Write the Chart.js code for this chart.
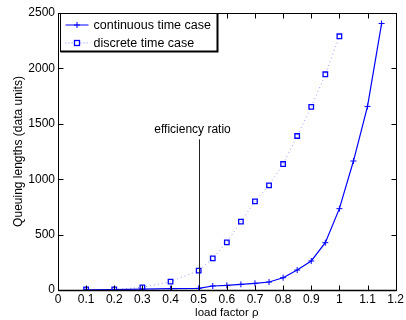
<!DOCTYPE html>
<html>
<head>
<meta charset="utf-8">
<script src="https://cdn.jsdelivr.net/npm/chart.js@4/dist/chart.umd.min.js"></script>
<style>
html,body{margin:0;padding:0;background:#fff;}
#wrap{width:406px;height:320px;position:relative;}
</style>
</head>
<body>
<div id="wrap"><canvas id="c" width="406" height="320"></canvas></div>
<script>
const contLoad = [0.1,0.2,0.3,0.4,0.5,0.55,0.6,0.65,0.7,0.75,0.8,0.85,0.9,0.95,1.0,1.05,1.1,1.15];
const contValues = [2,4,8,12,15,36,42,51,60,72,111,180,262,427,734,1164,1657,2405];
const discLoad = [0.1,0.2,0.3,0.4,0.5,0.55,0.6,0.65,0.7,0.75,0.8,0.85,0.9,0.95,1.0];
const discValues = [5,5,24,75,175,286,430,617,800,945,1137,1390,1652,1947,2290];
const seriesLabels = ["continuous time case","discrete time case"];
const xTicks = [0,0.1,0.2,0.3,0.4,0.5,0.6,0.7,0.8,0.9,1,1.1,1.2];
const yTicks = [0,500,1000,1500,2000,2500];
const markerLoad = 0.5;
const markerTop = 1360;
const markerText = "efficiency ratio";
const xTitle = "load factor ρ";
const yTitle = "Queuing lengths (data units)";

const FONT = "'Liberation Sans', Arial, sans-serif";
const BLUE = "rgb(0,0,255)";

const toPts = (xs, ys) => xs.map((x,i)=>({x:x, y:ys[i]}));

const boxPlugin = {
  id: 'box',
  afterDatasetsDraw(chart) {
    const ctx = chart.ctx, a = chart.chartArea;
    const xs = chart.scales.x, ys = chart.scales.y;
    ctx.save();
    // efficiency line
    const mx = Math.round(xs.getPixelForValue(markerLoad)) + 0.5;
    ctx.strokeStyle = '#222';
    ctx.lineWidth = 1;
    ctx.beginPath();
    ctx.moveTo(mx, ys.getPixelForValue(0));
    ctx.lineTo(mx, ys.getPixelForValue(markerTop));
    ctx.stroke();
    ctx.fillStyle = '#000';
    ctx.font = '12px ' + FONT;
    ctx.textAlign = 'center';
    ctx.textBaseline = 'middle';
    ctx.fillText(markerText, mx - 7, ys.getPixelForValue(markerTop) - 10);

    // box
    const L = Math.round(a.left)+0.5, R = Math.round(a.right)+0.5, T = Math.round(a.top)+0.5, B = Math.round(a.bottom)+0.5;
    ctx.strokeStyle = '#000';
    ctx.lineWidth = 1;
    ctx.strokeRect(L, T, R-L, B-T);
    // inward ticks
    const tl = 5;
    ctx.beginPath();
    xTicks.forEach(v => {
      const px = Math.round(xs.getPixelForValue(v)) + 0.5;
      ctx.moveTo(px, B); ctx.lineTo(px, B - tl);
      ctx.moveTo(px, T); ctx.lineTo(px, T + tl);
    });
    yTicks.forEach(v => {
      const py = Math.round(ys.getPixelForValue(v)) + 0.5;
      ctx.moveTo(L, py); ctx.lineTo(L + tl, py);
      ctx.moveTo(R, py); ctx.lineTo(R - tl, py);
    });
    ctx.stroke();
    ctx.lineWidth = 1.5;
    ctx.beginPath(); ctx.moveTo(L, B); ctx.lineTo(R, B); ctx.stroke();

    // legend
    const lx = L + 2, ly = T, lw = 157, lh = 38;
    ctx.fillStyle = '#fff';
    ctx.fillRect(lx, ly, lw, lh);
    ctx.lineWidth = 1;
    ctx.strokeStyle = '#000';
    ctx.strokeRect(lx, ly, lw, lh);
    ctx.lineWidth = 2;
    ctx.beginPath(); ctx.moveTo(lx, ly+lh); ctx.lineTo(lx+lw, ly+lh); ctx.lineTo(lx+lw, ly); ctx.stroke();
    const rows = [ly + 11, ly + 29];
    ctx.strokeStyle = BLUE; ctx.lineWidth = 1;
    ctx.beginPath(); ctx.moveTo(lx+5, rows[0]+0.5); ctx.lineTo(lx+28, rows[0]+0.5); ctx.stroke();
    const cx1 = lx + 16.5;
    ctx.beginPath(); ctx.moveTo(cx1-3, rows[0]+0.5); ctx.lineTo(cx1+3, rows[0]+0.5);
    ctx.moveTo(cx1, rows[0]-2.5); ctx.lineTo(cx1, rows[0]+3.5); ctx.stroke();
    ctx.strokeStyle = 'rgba(0,0,255,0.5)';
    ctx.setLineDash([1,2]);
    ctx.beginPath(); ctx.moveTo(lx+5, rows[1]+0.5); ctx.lineTo(lx+28, rows[1]+0.5); ctx.stroke();
    ctx.setLineDash([]);
    ctx.fillStyle = '#fff';
    ctx.fillRect(cx1-3, rows[1]-2.5, 6, 6);
    ctx.strokeStyle = BLUE; ctx.lineWidth = 1.3;
    ctx.strokeRect(cx1-2.5, rows[1]-2, 5, 5);
    ctx.fillStyle = '#000';
    ctx.font = '12.5px ' + FONT;
    ctx.textAlign = 'left';
    ctx.textBaseline = 'middle';
    ctx.fillText(seriesLabels[0], lx + 33, rows[0]+1);
    ctx.fillText(seriesLabels[1], lx + 33, rows[1]+1);
    ctx.restore();
  }
};

new Chart(document.getElementById('c'), {
  type: 'line',
  data: {
    datasets: [
      {
        label: seriesLabels[0],
        data: toPts(contLoad, contValues),
        borderColor: BLUE,
        backgroundColor: BLUE,
        borderWidth: 1.2,
        pointStyle: 'cross',
        pointRadius: 3,
        pointBorderWidth: 1,
        pointBorderColor: BLUE,
        tension: 0,
        fill: false
      },
      {
        label: seriesLabels[1],
        data: toPts(discLoad, discValues),
        borderColor: 'rgba(0,0,255,0.4)',
        borderDash: [1,3],
        borderWidth: 1,
        pointStyle: 'rect',
        pointRadius: 3.2,
        pointBorderWidth: 1.3,
        pointBorderColor: BLUE,
        pointBackgroundColor: 'rgba(255,255,255,0)',
        tension: 0,
        fill: false
      }
    ]
  },
  options: {
    responsive: false,
    animation: false,
    devicePixelRatio: 1,
    layout: { padding: { left: 11, right: 7, top: 13, bottom: 0 } },
    plugins: { legend: { display: false }, tooltip: { enabled: false } },
    scales: {
      x: {
        type: 'linear', min: 0, max: 1.2,
        afterBuildTicks: s => { s.ticks = xTicks.map(v => ({value: v})); },
        afterFit: s => { s.height = 30; },
        grid: { display: false, drawTicks: false },
        border: { display: false },
        ticks: {
          color: '#000', padding: 2,
          font: { family: FONT, size: 12 },
          callback: v => String(Math.round(v*10)/10),
          maxRotation: 0, autoSkip: false
        },
        title: { display: true, text: xTitle, color: '#000', font: { family: FONT, size: 11.5 }, padding: { top: 2, bottom: 0 } }
      },
      y: {
        type: 'linear', min: 0, max: 2500,
        afterBuildTicks: s => { s.ticks = yTicks.map(v => ({value: v})); },
        afterFit: s => { s.width = 47; },
        grid: { display: false, drawTicks: false },
        border: { display: false },
        ticks: {
          color: '#000', padding: 3,
          font: { family: FONT, size: 12 },
          callback: v => String(v)
        },
        title: { display: true, text: yTitle, color: '#000', font: { family: FONT, size: 12 }, padding: { top: 0, bottom: 2 } }
      }
    }
  },
  plugins: [boxPlugin]
});
</script>
</body>
</html>
